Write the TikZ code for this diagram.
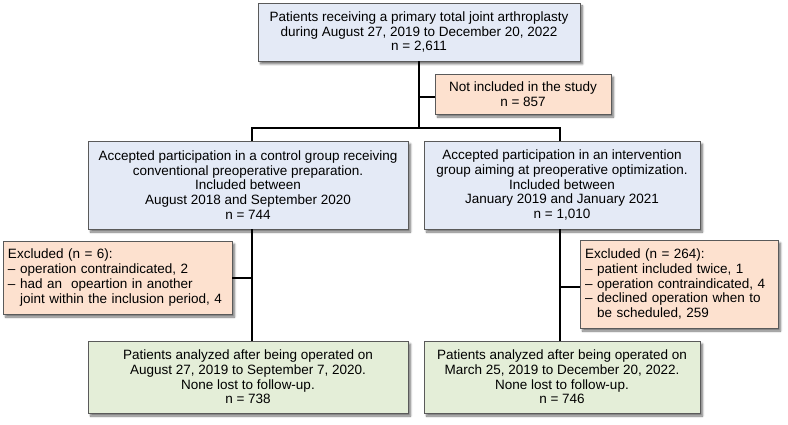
\documentclass[tikz,border=0pt]{standalone}
\usepackage{fontspec}
\setmainfont{Liberation Sans}
\usepackage{tikz}
\usetikzlibrary{positioning,calc,shadows.blur}
\definecolor{BoxBlue}{RGB}{228,234,246}
\definecolor{BoxPeach}{RGB}{253,225,207}
\definecolor{BoxGreen}{RGB}{228,238,216}
\definecolor{BoxBorder}{RGB}{90,90,90}

\begin{document}
\begin{tikzpicture}[
  x=1pt, y=-1pt,
  font=\fontsize{13.5}{14.7}\selectfont,
  box/.style={
    rectangle, draw=BoxBorder, line width=0.8pt, inner sep=0pt, align=center,
    blur shadow={shadow xshift=2.5pt, shadow yshift=-3pt, shadow blur steps=6,
                 shadow blur radius=2pt, shadow opacity=55}
  },
  infobox/.style={box, fill=BoxBlue},
  dropbox/.style={box, fill=BoxPeach, align=left, inner xsep=5pt},
  endbox/.style={box, fill=BoxGreen, minimum height=72pt},
  link/.style={draw=black, line width=1.6pt}
]
\useasboundingbox (0,0) rectangle (788,425);

% --- SCREENED ---
\node[infobox, minimum width=322pt, minimum height=58pt] (screen) at (419,32)
  {Patients receiving a primary total joint arthroplasty\\during August 27, 2019 to December 20, 2022\\n = 2,611};
\node[box, fill=BoxPeach, minimum width=176pt, minimum height=40pt] (notincl) at (523,94)
  {Not included in the study\\n = 857};

% --- ALLOCATION ---
\node[infobox, minimum width=320pt, minimum height=88pt] (control) at (248,185)
  {Accepted participation in a control group receiving\\conventional preoperative preparation.\\Included between\\August 2018 and September 2020\\n = 744};
\node[infobox, minimum width=276pt, minimum height=88pt] (interv) at (562,185)
  {Accepted participation in an intervention\\group aiming at preoperative optimization.\\Included between\\January 2019 and January 2021\\n = 1,010};

% --- EXCLUSIONS ---
\node[dropbox, text width=219pt, minimum height=73pt] (exclctrl) at (117.5,277.5)
  {Excluded (n = 6):\\– operation contraindicated, 2\\– had an\ \ opeartion in another\\\phantom{– }joint within the inclusion period, 4};
\node[dropbox, text width=188pt, minimum height=88pt] (exclint) at (679,284)
  {Excluded (n = 264):\\– patient included twice, 1\\– operation contraindicated, 4\\– declined operation when to\\\phantom{– }be scheduled, 259};

% --- ANALYSED ---
\node[endbox, minimum width=320pt] (anactrl) at (248,377)
  {Patients analyzed after being operated on\\August 27, 2019 to September 7, 2020.\\None lost to follow-up.\\n = 738};
\node[endbox, minimum width=276pt] (anaint) at (562,377)
  {Patients analyzed after being operated on\\March 25, 2019 to December 20, 2022.\\None lost to follow-up.\\n = 746};

% --- connectors ---
\coordinate (split) at (419,128);
\coordinate (notj) at (419,97);
\coordinate (ctrlj) at (252,128);
\coordinate (intj) at (560,128);
\coordinate (exclcj) at (252,278);
\coordinate (exclij) at (560,287);

\draw[link] (screen) -- (split);
\draw[link] (notj) -- (notj -| notincl.west);
\draw[link] (ctrlj |- control.north) -- (ctrlj) -- (intj) -- (intj |- interv.north);
\draw[link] (ctrlj |- control.south) -- (ctrlj |- anactrl.north);
\draw[link] (intj |- interv.south) -- (intj |- anaint.north);
\draw[link] (exclcj) -- (exclcj -| exclctrl.east);
\draw[link] (exclij) -- (exclij -| exclint.west);

\end{tikzpicture}
\end{document}
